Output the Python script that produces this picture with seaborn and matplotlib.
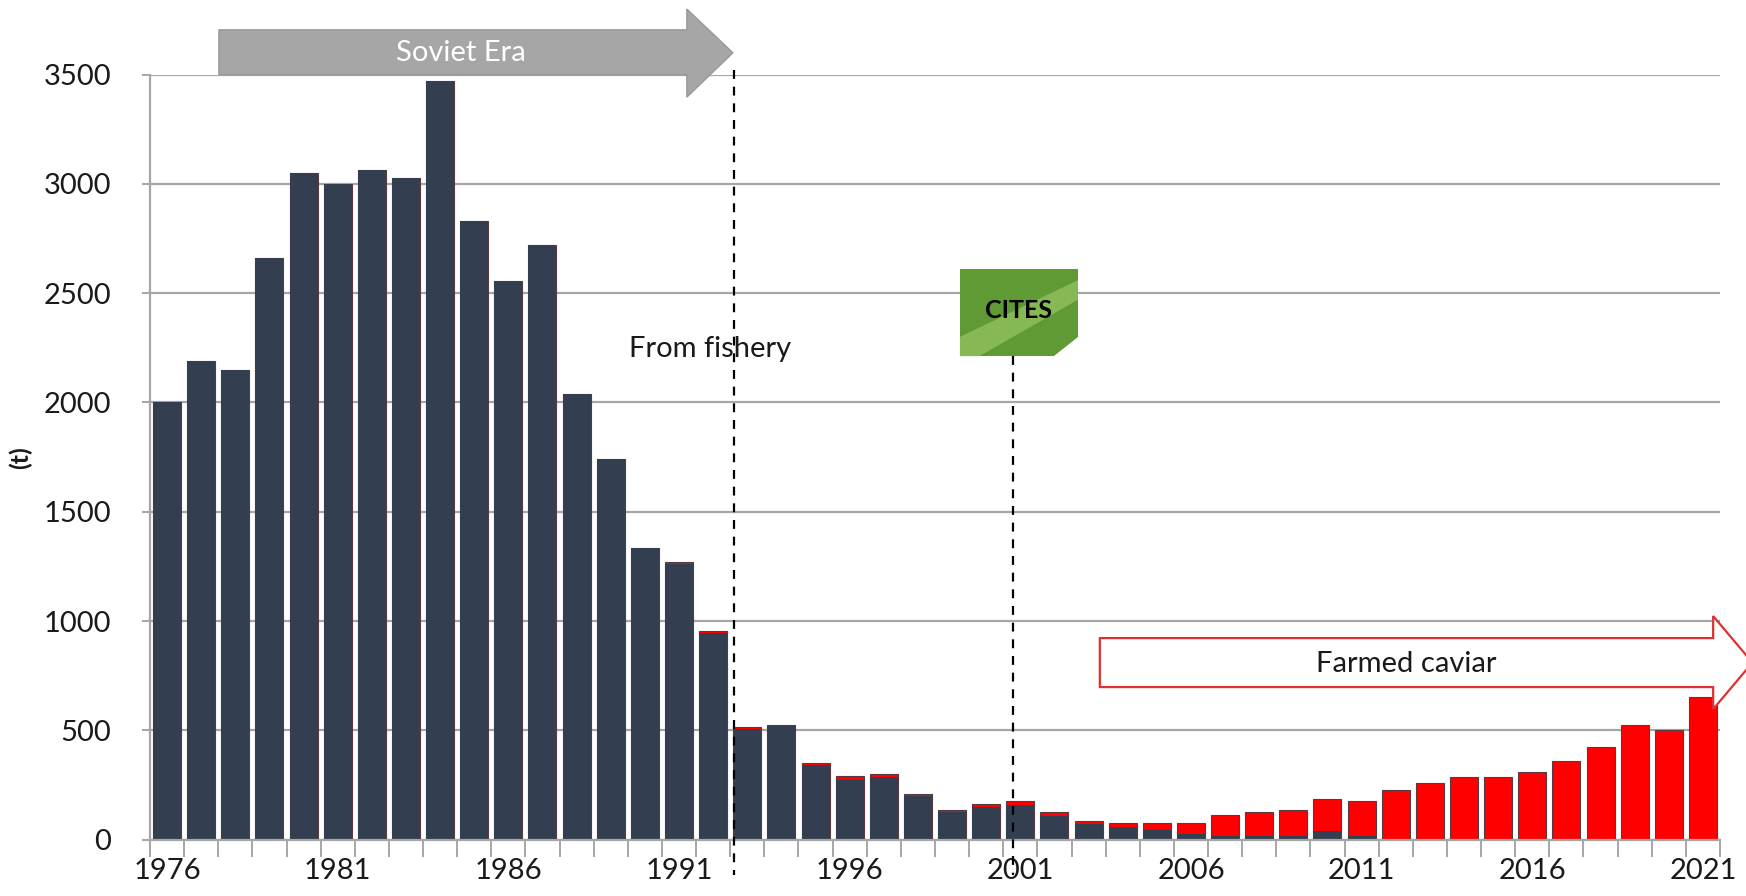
import numpy as np
import pandas as pd
import matplotlib
matplotlib.use("Agg")
import matplotlib.pyplot as plt
from matplotlib.patches import Polygon, Rectangle
import seaborn as sns

# Caviar production (tonnes): wild fishery vs. aquaculture, 1976-2021
years = list(range(1976, 2022))
fishery = [2000, 2190, 2150, 2660, 3050, 3000, 3065, 3025, 3470, 2830,
           2555, 2720, 2040, 1740, 1335, 1262, 947, 505, 518, 340,
           275, 285, 200, 125, 150, 160, 110, 70, 58, 46,
           26, 15, 15, 15, 38, 15, 0, 0, 0, 0,
           0, 0, 0, 0, 0, 0]
farmed = [0, 0, 0, 0, 0, 0, 0, 0, 0, 0,
          0, 0, 0, 0, 0, 8, 8, 10, 7, 10,
          15, 15, 10, 10, 15, 15, 15, 15, 17, 29,
          49, 96, 110, 122, 148, 160, 225, 260, 285, 285,
          310, 360, 425, 525, 500, 652]
tick_years = [1976, 1981, 1986, 1991, 1996, 2001, 2006, 2011, 2016, 2021]
y_ticks = [0, 500, 1000, 1500, 2000, 2500, 3000, 3500]

df = pd.DataFrame({"year": [str(y) for y in years],
                   "fishery": fishery,
                   "farmed": farmed})
df["total"] = df["fishery"] + df["farmed"]

sns.set_theme(style="white")
plt.rcParams["font.family"] = ["Lato", "DejaVu Sans"]

DARK = "#333F50"
RED = "#FF0000"
GRID = "#a6a6a6"

fig = plt.figure(figsize=(17.46, 8.96), dpi=100)
ax = fig.add_axes([0.0859, 0.0629, 0.8992, 0.8538])

# stacked bars: farmed on top of fishery
sns.barplot(data=df, x="year", y="total", color=RED, saturation=1,
            width=0.82, errorbar=None, ax=ax)
n_red = len(ax.patches)
sns.barplot(data=df, x="year", y="fishery", color=DARK, saturation=1,
            width=0.82, errorbar=None, ax=ax)
for i, p in enumerate(ax.patches):
    if i < n_red:
        p.set_edgecolor("#5a3a40")
        p.set_linewidth(0.8)
    else:
        p.set_edgecolor("none")

ax.set_xlim(-0.5, len(years) - 0.5)
ax.set_ylim(0, 3500)

ax.yaxis.grid(True, color=GRID, lw=1.6)
ax.set_axisbelow(True)
for side in ("top", "right"):
    ax.spines[side].set_visible(False)
for side in ("left", "bottom"):
    ax.spines[side].set_color(GRID)
    ax.spines[side].set_linewidth(1.6)

# ticks between categories, labels every five years
ax.set_xticks(np.arange(-0.5, len(years), 1.0))
ax.set_xticklabels([])
label_pos = [years.index(y) for y in tick_years]
ax.set_xticks(label_pos, [str(y) for y in tick_years], minor=True)
ax.tick_params(axis="x", which="major", length=12, width=1.4, color=GRID,
               direction="out", bottom=True)
ax.tick_params(axis="x", which="minor", length=0, pad=13, labelsize=21,
               labelcolor="#1a1a1a")
ax.set_yticks(y_ticks, [str(v) for v in y_ticks])
ax.tick_params(axis="y", length=6, width=1.4, color=GRID, left=True,
               direction="out", pad=22, labelsize=21, labelcolor="#1a1a1a")
ax.set_xlabel("")
ax.set_ylabel("(t)", fontsize=18, fontweight="bold", color="#1a1a1a")
ax.yaxis.set_label_coords(-0.075, 0.5)

# era markers
ax.plot([16.6, 16.6], [3520, -160], ls=(0, (4, 3.5)), color="black",
        lw=1.6, clip_on=False, zorder=5)
ax.plot([24.8, 24.8], [2212, -160], ls=(0, (4, 3.5)), color="black",
        lw=1.6, clip_on=False, zorder=5)

# Soviet Era arrow
soviet = Polygon([(1.52, 3500), (15.23, 3500), (15.23, 3397), (16.58, 3600),
                  (15.23, 3800), (15.23, 3705), (1.52, 3705)],
                 closed=True, facecolor="#a6a6a6", edgecolor="#999999",
                 lw=1.0, clip_on=False, zorder=6)
ax.add_patch(soviet)
ax.text(8.6, 3600, "Soviet Era", color="white", fontsize=21,
        ha="center", va="center", zorder=7, clip_on=False)

# Farmed caviar arrow
farm_arrow = Polygon([(27.33, 698), (45.3, 698), (45.3, 597), (46.45, 810),
                      (45.3, 1023), (45.3, 922), (27.33, 922)],
                     closed=True, facecolor="white", edgecolor="#e03030",
                     lw=1.6, clip_on=False, zorder=6)
ax.add_patch(farm_arrow)
ax.text(36.3, 805, "Farmed caviar", color="#1a1a1a", fontsize=21,
        ha="center", va="center", zorder=7)

ax.text(15.9, 2244, "From fishery", color="#1a1a1a", fontsize=21,
        ha="center", va="center", zorder=7)

# CITES badge
ax.add_patch(Rectangle((23.23, 2212), 3.46, 398, facecolor="#5f9a35",
                       edgecolor="none", zorder=6))
ax.add_patch(Polygon([(23.23, 2300), (26.69, 2560), (26.69, 2470),
                      (23.8, 2212), (23.23, 2212)], closed=True,
                     facecolor="#86b956", edgecolor="none", zorder=6))
ax.add_patch(Polygon([(26.0, 2212), (26.69, 2212), (26.69, 2300)],
                     closed=True, facecolor="white", edgecolor="none",
                     zorder=6))
ax.text(24.96, 2420, "CITES", color="black", fontsize=18, fontweight="bold",
        ha="center", va="center", zorder=7, fontstretch="condensed")

fig.savefig("out.png", dpi=100, facecolor="white")
